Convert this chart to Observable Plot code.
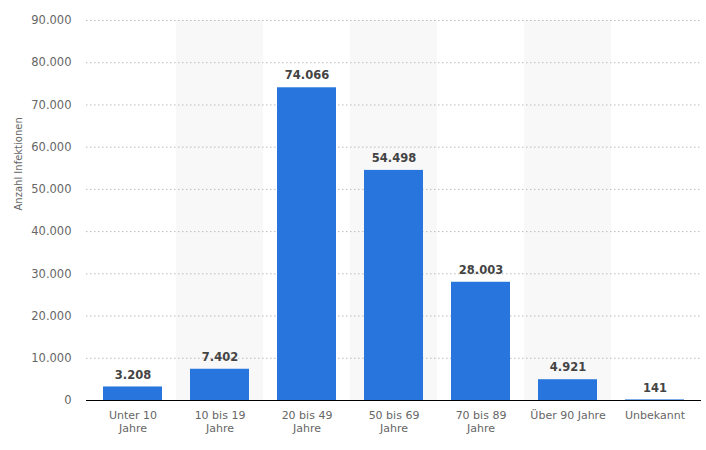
<!DOCTYPE html>
<html>
<head>
<meta charset="utf-8">
<script src="https://cdn.jsdelivr.net/npm/d3@7"></script>
<script src="https://cdn.jsdelivr.net/npm/@observablehq/plot@0.6"></script>
<style>
  html, body { margin: 0; padding: 0; background: #fff; }
  #chart { width: 706px; height: 450px; }
</style>
</head>
<body>
<div id="chart"></div>
<script>
const categories = ["Unter 10\nJahre", "10 bis 19\nJahre", "20 bis 49\nJahre", "50 bis 69\nJahre", "70 bis 89\nJahre", "Über 90 Jahre", "Unbekannt"];
const values = [3208, 7402, 74066, 54498, 28003, 4921, 141];
const yTicks = [0, 10000, 20000, 30000, 40000, 50000, 60000, 70000, 80000, 90000];
const shadedCategories = [categories[1], categories[3], categories[5]];

const data = categories.map((c, i) => ({category: c, value: values[i]}));
const de = d3.formatLocale({decimal: ",", thousands: ".", grouping: [3], currency: ["", " €"]});
const fmt = de.format(",d");

const chart = Plot.plot({
  width: 706,
  height: 450,
  marginLeft: 86,
  marginRight: 5,
  marginTop: 20,
  marginBottom: 50,
  style: {fontFamily: "DejaVu Sans", fontSize: "11px", background: "#fff"},
  x: {domain: categories, padding: 0, label: null, tickSize: 0},
  y: {domain: [0, 90000], ticks: yTicks, label: null},
  marks: [
    Plot.cell(shadedCategories, {x: d => d, fill: "#f8f8f8"}),
    Plot.gridY(yTicks.filter(t => t > 0), {stroke: "#bbb", strokeOpacity: 1, strokeDasharray: "1.5,2.5", strokeWidth: 1}),
    Plot.barY(data, {x: "category", y: "value", fill: "#2876dd", insetLeft: 14, insetRight: 14}),
    Plot.ruleY([0], {stroke: "#000", strokeWidth: 1.2}),
    Plot.text(data, {x: "category", y: "value", text: d => fmt(d.value), dy: -12, fontWeight: "bold", fill: "#444", fontSize: 11.5}),
    Plot.axisX({tickSize: 0, tickPadding: 10, fill: "#666", fontSize: 11, lineHeight: 1.15}),
    Plot.axisY({ticks: yTicks, tickSize: 0, tickPadding: 15, tickFormat: fmt, fill: "#666", fontSize: 11.5, label: null}),
    Plot.text(["Anzahl Infektionen"], {frameAnchor: "left", dx: -68, rotate: -90, fill: "#666", fontSize: 10})
  ]
});
document.getElementById("chart").appendChild(chart);
</script>
</body>
</html>
